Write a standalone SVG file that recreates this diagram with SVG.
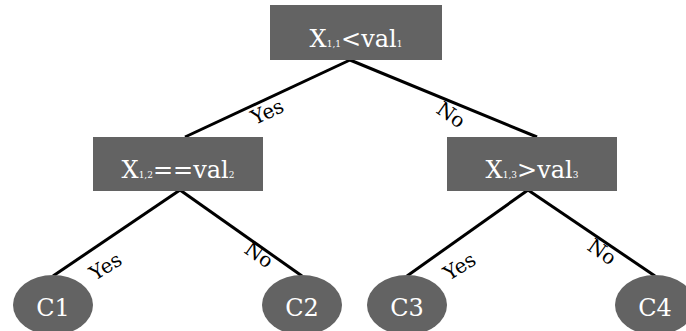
<svg xmlns="http://www.w3.org/2000/svg" width="686" height="331" viewBox="0 0 686 331">
<style>
.box{fill:#636363}
.leaf{fill:#636363}
.t{fill:#fff;font-size:24px;font-family:"DejaVu Serif",serif}
.s{font-size:9px}
.lab{fill:#000;font-size:20px;font-family:"DejaVu Serif",serif}
.e{stroke:#000;stroke-width:3;fill:none}
</style>
<rect width="686" height="331" fill="#fff"/>
<g id="connectors">
<line class="e" x1="350" y1="60" x2="185" y2="137"/>
<line class="e" x1="350" y1="60" x2="537" y2="137"/>
<line class="e" x1="180" y1="190" x2="53" y2="276"/>
<line class="e" x1="180" y1="190" x2="302" y2="276"/>
<line class="e" x1="528" y1="190" x2="407" y2="276"/>
<line class="e" x1="528" y1="190" x2="655" y2="276"/>
<text class="lab" transform="translate(255,125) rotate(-25)">Yes</text>
<text class="lab" transform="translate(435,112) rotate(35)">No</text>
<text class="lab" transform="translate(95,281) rotate(-32)">Yes</text>
<text class="lab" transform="translate(243,252) rotate(35)">No</text>
<text class="lab" transform="translate(449,281) rotate(-32)">Yes</text>
<text class="lab" transform="translate(586,249) rotate(35)">No</text>
</g>
<g id="n1">
<rect class="box" x="270" y="5" width="172" height="55"/>
<text class="t" x="356" y="47" text-anchor="middle">X<tspan class="s">1,1</tspan>&lt;val<tspan class="s">1</tspan></text>
</g>
<g id="n2">
<rect class="box" x="93" y="137" width="170" height="54"/>
<text class="t" x="178" y="178" text-anchor="middle">X<tspan class="s">1,2</tspan>==val<tspan class="s">2</tspan></text>
</g>
<g id="n3">
<rect class="box" x="447" y="137" width="170" height="54"/>
<text class="t" x="532" y="178" text-anchor="middle">X<tspan class="s">1,3</tspan>&gt;val<tspan class="s">3</tspan></text>
</g>
<g id="c1">
<ellipse class="leaf" cx="53" cy="305" rx="40" ry="30"/>
<text class="t" x="53" y="316" text-anchor="middle">C1</text>
</g>
<g id="c2">
<ellipse class="leaf" cx="302" cy="305" rx="40" ry="30"/>
<text class="t" x="302" y="316" text-anchor="middle">C2</text>
</g>
<g id="c3">
<ellipse class="leaf" cx="407" cy="305" rx="40" ry="30"/>
<text class="t" x="407" y="316" text-anchor="middle">C3</text>
</g>
<g id="c4">
<ellipse class="leaf" cx="655" cy="305" rx="40" ry="30"/>
<text class="t" x="655" y="316" text-anchor="middle">C4</text>
</g>
</svg>
